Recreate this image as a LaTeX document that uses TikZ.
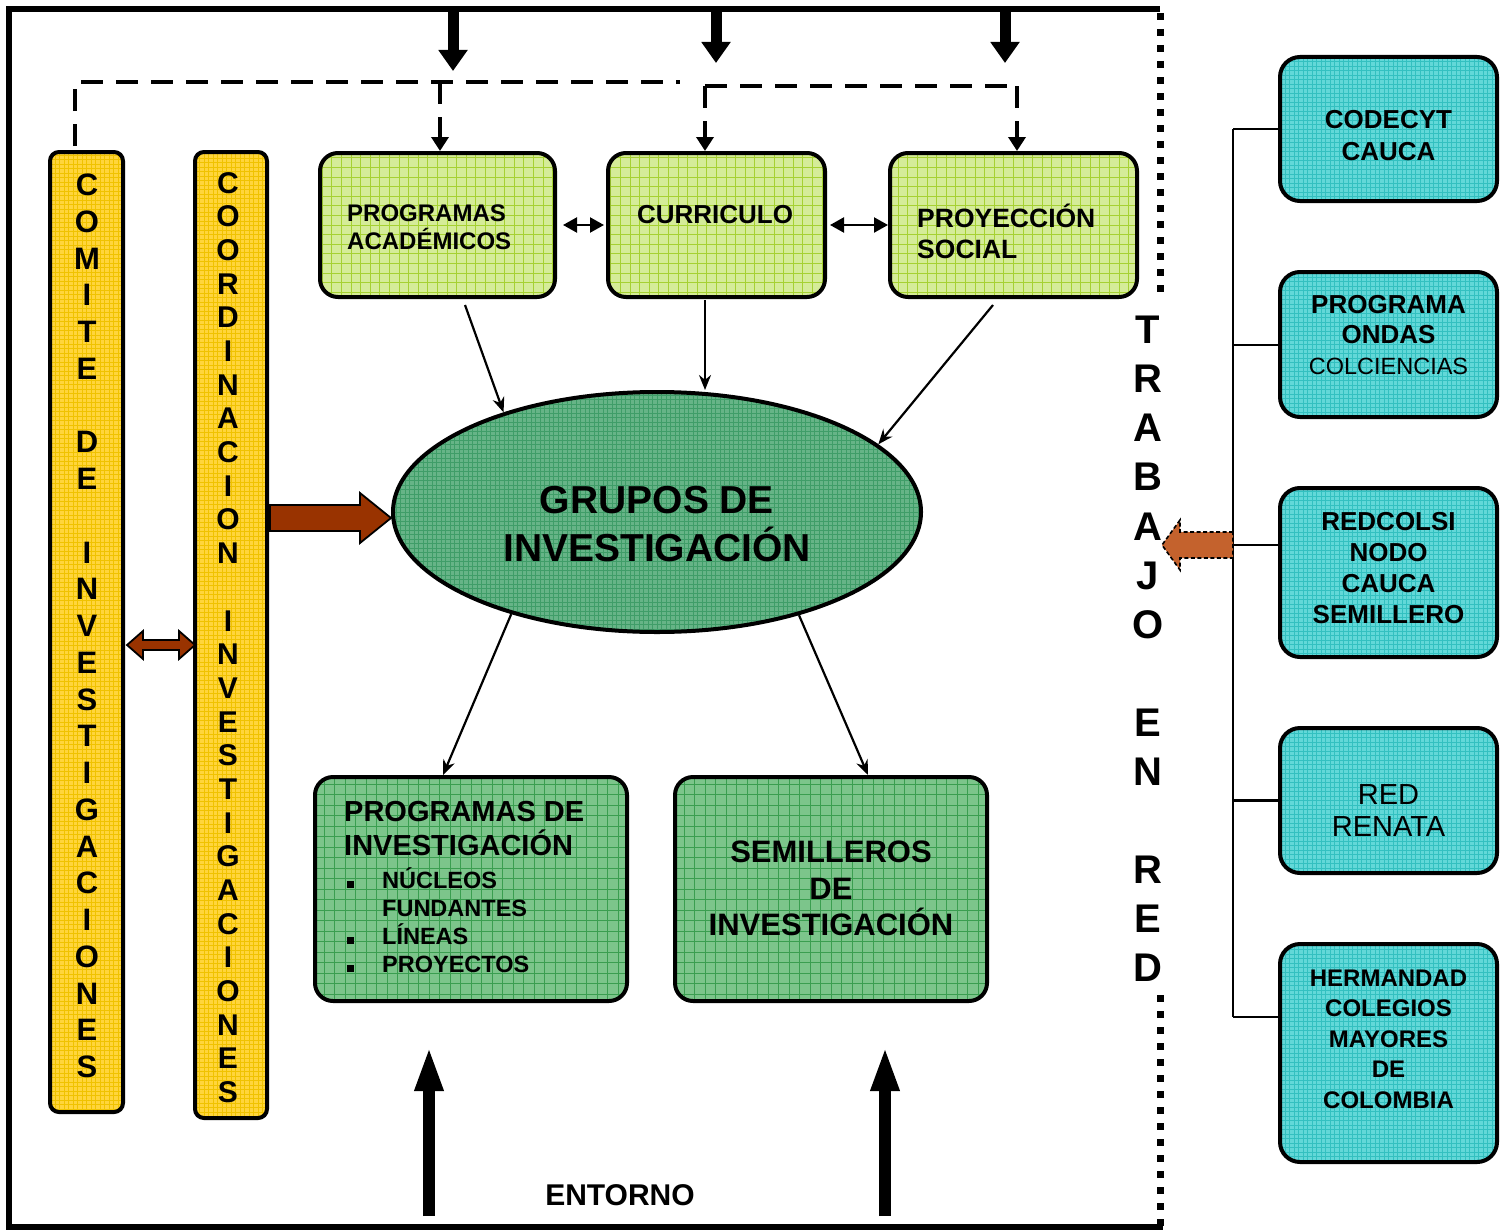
\documentclass[tikz,border=0pt]{standalone}
\usepackage{fontspec}
\setmainfont{Liberation Sans}
\usetikzlibrary{arrows.meta,shapes.geometric,calc}
\newcommand\myfs[2]{\fontsize{#1}{#2}\selectfont}
\definecolor{yel}{HTML}{FFD53C}
\definecolor{yelg}{HTML}{F0C200}
\definecolor{lgr}{HTML}{D5EC98}
\definecolor{lgrg}{HTML}{A6D132}
\definecolor{egr}{HTML}{66B487}
\definecolor{egrg}{HTML}{3F9D68}
\definecolor{bgr}{HTML}{7CC58B}
\definecolor{bgrg}{HTML}{3A9E50}
\definecolor{cya}{HTML}{62D8D8}
\definecolor{cyag}{HTML}{33C0C0}
\definecolor{brn}{HTML}{993300}
\definecolor{org}{HTML}{C4622D}
\tikzset{
  gridfill/.style n args={4}{fill=#1, path picture={\draw[#2, line width=#4, step=#3]
      (path picture bounding box.south west) grid (path picture bounding box.north east);}},
  rbox/.style={draw, line width=4pt, rounded corners=18pt, inner sep=0pt},
  ybox/.style={rbox, rounded corners=9pt, gridfill={yel}{yelg}{4.5pt}{0.5pt}},
  lgbox/.style={rbox, gridfill={lgr}{lgrg}{9.6pt}{0.9pt}},
  bgbox/.style={rbox, gridfill={bgr}{bgrg}{10.5pt}{0.9pt}},
  cbox/.style={rbox, rounded corners=20pt, minimum width=217pt, gridfill={cya}{cyag}{4.5pt}{0.5pt}},
  txt/.style={inner sep=0pt, font=\bfseries},
  conn/.style={line width=2.2pt, -{Stealth[length=15pt,width=12pt]}},
  dconn/.style={line width=2.2pt, {Triangle[length=14pt,width=15pt]}-{Triangle[length=14pt,width=15pt]}},
  dash4/.style={line width=4pt, dash pattern=on 22pt off 13pt},
  dasharr/.style={dash4, -{Triangle[length=14pt,width=17pt]}},
  bigdown/.style={line width=11pt, -{Triangle[length=21pt,width=28pt]}},
  bigup/.style={line width=12pt, -{Triangle[length=45pt,width=26pt]}},
  dotline/.style={line width=7pt, dash pattern=on 7pt off 9pt},
}
\begin{document}
\begin{tikzpicture}[x=1pt,y=-1pt]
\useasboundingbox (0,0) rectangle (1509,1231);
\fill[white] (0,0) rectangle (1509,1231);

% frame
\draw[line width=6pt] (1160,9) -- (9,9) -- (9,1227) -- (1163,1227);
\draw[dotline] (1160,13) -- (1160,292);
\draw[dotline] (1160,995) -- (1160,1226);

% yellow columns
\node[ybox, minimum width=73pt, minimum height=960pt] (comite) at (86.5,632) {};
\node[ybox, minimum width=72pt, minimum height=966pt] (coord) at (231,635) {};
\node[txt, align=center, font=\bfseries\myfs{31}{36.75}] (comite-t) at (87,626)
  {C\\O\\M\\I\\T\\E\\\mbox{}\\D\\E\\\mbox{}\\I\\N\\V\\E\\S\\T\\I\\G\\A\\C\\I\\O\\N\\E\\S};
\node[txt, align=center, font=\bfseries\myfs{30}{33.67}] (coord-t) at (228,637.5)
  {C\\O\\O\\R\\D\\I\\N\\A\\C\\I\\O\\N\\\mbox{}\\I\\N\\V\\E\\S\\T\\I\\G\\A\\C\\I\\O\\N\\E\\S};

% top green boxes
\node[lgbox, minimum width=235pt, minimum height=144pt] (progacad) at (437.5,225) {};
\node[lgbox, minimum width=217pt, minimum height=144pt] (curric) at (716.5,225) {};
\node[lgbox, minimum width=247pt, minimum height=144pt] (proy) at (1013.5,225) {};
\node[txt, anchor=west, align=left, font=\bfseries\myfs{24}{28}] (progacad-t) at (347,227) {PROGRAMAS\\ACADÉMICOS};
\node[txt, font=\bfseries\myfs{26}{30}] (curric-t) at (715,215) {CURRICULO};
\node[txt, anchor=west, align=left, font=\bfseries\myfs{26.5}{31}] (proy-t) at (917,231) {PROYECCIÓN\\SOCIAL};

% ellipse
\node[ellipse, draw, line width=4pt, minimum width=528pt, minimum height=240pt, inner sep=0pt,
      gridfill={egr}{egrg}{4.5pt}{0.5pt}] (grupos) at (657,512) {};
\node[txt, align=center, font=\bfseries\myfs{39}{48}] (grupos-t) at (657,524) {GRUPOS DE\\INVESTIGACIÓN};

% bottom green boxes
\node[bgbox, minimum width=312pt, minimum height=224pt] (proginv) at (471,889) {};
\node[bgbox, minimum width=312pt, minimum height=224pt] (semil) at (831,889) {};
\node[txt, anchor=west, align=left, font=\bfseries\myfs{29}{34}] (proginv-t) at (344,829) {PROGRAMAS DE\\INVESTIGACIÓN};
\node[txt, anchor=west, align=left, font=\bfseries\myfs{23.5}{28}] (proginv-b) at (347,920)
  {\makebox[35pt][l]{\rule{7pt}{7pt}}NÚCLEOS\\\hspace*{35pt}FUNDANTES\\\makebox[35pt][l]{\rule{7pt}{7pt}}LÍNEAS\\\makebox[35pt][l]{\rule{7pt}{7pt}}PROYECTOS};
\node[txt, align=center, font=\bfseries\myfs{31}{36.5}] (semil-t) at (831,888.5) {SEMILLEROS\\DE\\INVESTIGACIÓN};

% right cyan boxes
\node[cbox, minimum height=144pt] (codecyt) at (1388.5,129) {};
\node[cbox, minimum height=145pt] (ondas) at (1388.5,344.5) {};
\node[cbox, minimum height=169pt] (redcolsi) at (1388.5,572.5) {};
\node[cbox, minimum height=145pt] (renata) at (1388.5,800.5) {};
\node[cbox, minimum height=218pt] (herm) at (1388.5,1053) {};
\node[txt, align=center, font=\bfseries\myfs{26}{32}] (codecyt-t) at (1388.5,136) {CODECYT\\CAUCA};
\node[txt, align=center, font=\bfseries\myfs{26}{30.5}] (ondas-t) at (1388.5,335) {PROGRAMA\\ONDAS\\{\mdseries\myfs{23.5}{29}COLCIENCIAS}};
\node[txt, align=center, font=\bfseries\myfs{26}{30.7}] (redcolsi-t) at (1388.5,568) {REDCOLSI\\NODO\\CAUCA\\SEMILLERO};
\node[txt, align=center, font=\mdseries\myfs{29}{32}] (renata-t) at (1388.5,811) {RED\\RENATA};
\node[txt, align=center, font=\bfseries\myfs{24}{30.5}] (herm-t) at (1388.5,1039) {HERMANDAD\\COLEGIOS\\MAYORES\\DE\\COLOMBIA};

% TRABAJO EN RED
\node[txt, align=center, font=\bfseries\myfs{40}{49.1}] (trabajo) at (1148,649)
  {T\\R\\A\\B\\A\\J\\O\\\mbox{}\\E\\N\\\mbox{}\\R\\E\\D};

% ENTORNO
\node[txt, font=\bfseries\myfs{30}{34}] (entorno) at (620,1195) {ENTORNO};

% connectors between top boxes
\draw[dconn] ($(progacad.east)+(6,0)$) -- ($(curric.west)+(-2,0)$);
\draw[dconn] ($(curric.east)+(3,0)$) -- (proy.west);

% to ellipse
\draw[conn] ($(progacad.south)+(27.5,6)$) -- (grupos.147);
\draw[conn] ($(curric.south)+(-11.5,1)$) coordinate (c1) -- (c1 |- grupos.north);
\draw[conn] ($(proy.south)+(-20.5,6)$) -- (grupos.17);
% from ellipse
\draw[conn] (grupos.215) -- ($(proginv.north)+(-28,0)$);
\draw[conn] (grupos.324) -- ($(semil.north)+(37,0)$);

% dashed network
\coordinate (dA) at ($(comite.north)+(-11.5,-4)$);
\coordinate (dB) at (75,82);
\coordinate (dC) at (680,82);
\coordinate (dP) at (440,82);
\draw[dash4] (dA) -- (dB) -- (dC);
\draw[dasharr] (dP) -- (dP |- progacad.north);
\coordinate (dD) at (705,86);
\coordinate (dE) at (1017,86);
\draw[dash4] (dD) -- (dE);
\draw[dasharr] (dD) -- (dD |- curric.north);
\draw[dasharr] (dE) -- (dE |- proy.north);

% top black arrows
\coordinate (ta1) at (453,12); \coordinate (tb1) at (453,71);
\coordinate (ta2) at (716,12); \coordinate (tb2) at (716,63);
\coordinate (ta3) at (1005,12); \coordinate (tb3) at (1005,63);
\draw[bigdown] (ta1) -- (tb1);
\draw[bigdown] (ta2) -- (tb2);
\draw[bigdown] (ta3) -- (tb3);

% bottom up arrows
\coordinate (ua1) at (429,1216); \coordinate (ub1) at (429,1046);
\coordinate (ua2) at (885,1216); \coordinate (ub2) at (885,1046);
\draw[bigup] (ua1) -- (ub1);
\draw[bigup] (ua2) -- (ub2);

% brown arrows
\draw[fill=brn, line width=1.8pt, line join=miter]
  ($(grupos.west)+(0,6)$) -- ++(-31,-25) -- ++(0,12) -- ++(-90,0) -- ++(0,26) -- ++(90,0) -- ++(0,12) -- cycle;
\draw[fill=brn, line width=1.8pt, line join=miter]
  ($(comite.east)+(2,13)$) -- ++(16,-14) -- ++(0,9) -- ++(36,0) -- ++(0,-9) -- ++(16,14)
  -- ++(-16,14) -- ++(0,-9) -- ++(-36,0) -- ++(0,9) -- cycle;

% right tree
\coordinate (tr1) at (1233,129);
\coordinate (tr2) at (1233,345);
\coordinate (tr3) at (1233,545);
\coordinate (tr4) at (1233,800.5);
\coordinate (tr5) at (1233,1017);
\draw[line width=2.5pt] (tr1) -- (tr5);
\draw[line width=2.5pt] (tr1) -- (codecyt.west);
\draw[line width=2.5pt] (tr2) -- (tr2 -| ondas.west);
\draw[line width=2.5pt] (tr3) -- (tr3 -| redcolsi.west);
\draw[line width=2.5pt] (tr4) -- (renata.west);
\draw[line width=2.5pt] (tr5) -- (tr5 -| herm.west);

% orange dashed arrow
\draw[fill=org, line width=1.6pt, dash pattern=on 4pt off 2.5pt, line join=miter]
  (tr3) ++(0,-13) -- ++(-53,0) -- ++(0,-12) -- ++(-18,25) -- ++(18,25) -- ++(0,-12) -- ++(53,0) -- cycle;
\end{tikzpicture}
\end{document}
